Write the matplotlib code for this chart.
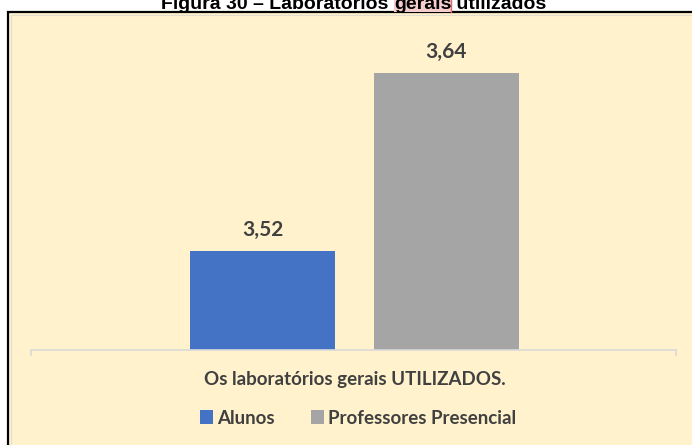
import matplotlib
matplotlib.use("Agg")
import matplotlib.pyplot as plt
from matplotlib.patches import Rectangle

# data
category = "Os laboratórios gerais UTILIZADOS."
series = ["Alunos", "Professores Presencial"]
values = [3.52, 3.64]
value_labels = ["3,52", "3,64"]
colors = ["#4472C4", "#A5A5A5"]

W, H = 692, 445
fig = plt.figure(figsize=(W / 100, H / 100), dpi=100)
fig.patch.set_facecolor("white")

# chart panel with black frame (cut off at right and bottom like the screenshot)
panel = Rectangle((8 / W, -0.05), 1.0, (H - 12) / H + 0.05, transform=fig.transFigure,
                  facecolor="#FFF2CC", edgecolor="black", linewidth=1.6, zorder=-5)
fig.patches.append(panel)
inner = Rectangle((11 / W, -0.05), 1.0, (H - 15) / H + 0.05, transform=fig.transFigure,
                  facecolor="none", edgecolor="#E2DDD0", linewidth=0.8, zorder=-4)
fig.patches.append(inner)

# axes: baseline at y=350px, x from 31 to 676px
left, right, bottom, top = 31, 676, 350, 40
ax = fig.add_axes([left / W, 1 - bottom / H, (right - left) / W, (bottom - top) / H])
ax.set_facecolor("none")
ax.set_zorder(2)

x = [0, 1]
ax.bar(x, values, width=0.79, color=colors, label=series, zorder=2)
ax.set_xlim(-1.26, 2.25)
ax.set_ylim(3.4533, 3.6622)

for xi, v, lab in zip(x, values, value_labels):
    ax.annotate(lab, (xi, v), xytext=(0, 15), textcoords="offset points",
                ha="center", va="center", fontsize=15, fontweight="bold",
                color="#404040", family="Lato")

for s in ["top", "right", "left"]:
    ax.spines[s].set_visible(False)
ax.spines["bottom"].set_color("#D9D9D9")
ax.spines["bottom"].set_linewidth(1.2)
ax.set_yticks([])
ax.set_xticks([0.5], [category])
ax.tick_params(axis="x", which="major", length=0, pad=15, labelsize=13.5,
               labelcolor="#404040")
for t in ax.get_xticklabels():
    t.set_fontweight("bold")
    t.set_family("Lato")
ax.set_xticks([-1.26, 2.25], minor=True)
ax.tick_params(axis="x", which="minor", length=4.5, width=1.2, color="#D9D9D9")

# legend
leg = fig.legend(loc="center", bbox_to_anchor=(358 / W, 1 - 418 / H), ncol=2,
                 frameon=False, handlelength=0.7, handleheight=0.7,
                 handletextpad=0.25, columnspacing=1.9,
                 prop={"family": "Lato", "weight": "bold", "size": 13.5})
leg.set_zorder(3)
for t in leg.get_texts():
    t.set_color("#404040")

# title, with the word "gerais" highlighted
parts = ["Figura 30 – Laboratórios ", "gerais", " utilizados"]
tprops = dict(fontsize=14, fontweight="bold", family="Liberation Sans", color="black",
              va="baseline", ha="left", transform=fig.transFigure)
renderer = fig.canvas.get_renderer()
widths = []
for p in parts:
    tt = fig.text(0, 0, p, **tprops)
    widths.append(tt.get_window_extent(renderer).width)
    tt.remove()
xpos = 354 - sum(widths) / 2
ybase = 1 - 9 / H
for i, p in enumerate(parts):
    if i == 1:
        fig.patches.append(Rectangle((xpos / W, ybase - 3 / H), widths[i] / W, 20 / H,
                                     transform=fig.transFigure, facecolor="#F4CCCC",
                                     edgecolor="none", zorder=1))
        fig.lines.append(plt.Line2D([(xpos + widths[i]) / W] * 2, [ybase - 3 / H, 1],
                                    transform=fig.transFigure, color="#E06666", lw=1))
    fig.text(xpos / W, ybase, p, zorder=3, **tprops)
    xpos += widths[i]

fig.savefig("out.png", dpi=100)
